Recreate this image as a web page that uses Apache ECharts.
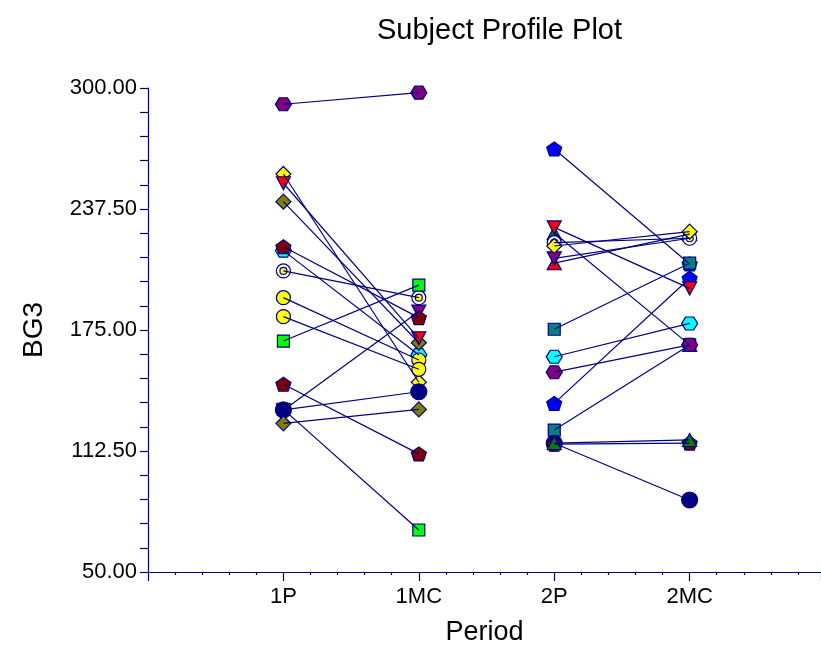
<!DOCTYPE html>
<html>
<head>
<meta charset="utf-8">
<script src="https://cdn.jsdelivr.net/npm/echarts@6/dist/echarts.min.js"></script>
<style>
  body { margin: 0; background: #fff; }
  #chart { width: 821px; height: 653px; }
</style>
</head>
<body>
<div id="chart"></div>
<script>
// period labels on the x axis (positions 1..4)
const periodNames = ['1P', '1MC', '2P', '2MC'];

// sequence 1 subjects: 1P -> 1MC
const seq1P  = [134.0, 133.5, 216.0, 191.7, 241.3, 291.6, 255.6, 250.8, 218.0, 205.5, 181.9, 169.3, 147.0, 133.7, 126.8];
const seq1MC = [71.7, 184.5, 162.1, 159.5, 168.4, 297.6, 148.0, 170.7, 181.4, 191.7, 154.7, 198.2, 111.0, 143.1, 134.0];
const seq1Marker = ['square', 'down', 'hexagon', 'circle', 'diamond', 'hexagon', 'diamond', 'down', 'pentagon', 'target', 'circle', 'square', 'pentagon', 'navy', 'diamond'];
const seq1Color  = ['#00ff00', '#800080', '#00ffff', '#ffff00', '#808000', '#800080', '#ffff00', '#ff0000', '#800000', '#ffffff', '#ffff00', '#00ff00', '#800000', '#000080', '#808000'];

// sequence 2 subjects: 2P -> 2MC
const seq2P  = [268.5, 123.3, 225.1, 116.5, 116.0, 116.6, 175.4, 153.2, 161.2, 137.1, 228.0, 209.5, 212.0, 220.1, 218.4];
const seq2MC = [209.1, 167.3, 167.3, 87.2, 116.6, 118.2, 209.5, 167.3, 178.4, 201.7, 196.5, 224.5, 222.4, 222.4, 225.8];
const seq2Marker = ['pentagon', 'square', 'up', 'navy', 'pentagon', 'up', 'square', 'hexagon', 'hexagon', 'pentagon', 'down', 'up', 'down', 'target', 'diamond'];
const seq2Color  = ['#0000ff', '#008080', '#008000', '#000080', '#800000', '#008000', '#008080', '#800080', '#00ffff', '#0000ff', '#ff0000', '#ff0000', '#800080', '#ffffff', '#ffff00'];

const navy = '#000080';
const font = 'Liberation Sans, Arial, sans-serif';

const symbols = {
  circle: 'circle',
  navy: 'circle',
  target: 'circle',
  square: 'rect',
  diamond: 'diamond',
  up: 'triangle',
  down: 'path://M-10,-8.66 L10,-8.66 L0,8.66 Z',
  pentagon: 'path://M0,-10 L9.51,-3.09 L5.88,8.09 L-5.88,8.09 L-9.51,-3.09 Z',
  hexagon: 'path://M-10,0 L-5,-8.66 L5,-8.66 L10,0 L5,8.66 L-5,8.66 Z'
};
const sizes = {
  circle: 14, navy: 16, target: 14, square: 12, diamond: 15,
  up: [14, 13], down: [14, 13], pentagon: [15, 14], hexagon: [16, 13]
};

const markerSeries = [];
const lineSeries = [];

function addGroup(x0, startVals, endVals, markers, colors) {
  startVals.forEach((v, i) => {
    const data = [[x0, v], [x0 + 1, endVals[i]]];
    const m = markers[i];
    markerSeries.push({
      type: 'scatter',
      data: data,
      symbol: symbols[m],
      symbolSize: sizes[m],
      z: 2,
      itemStyle: { color: colors[i], borderColor: navy, borderWidth: 1.2, opacity: 1 }
    });
    if (m === 'target') {
      markerSeries.push({
        type: 'scatter',
        data: data,
        symbol: 'circle',
        symbolSize: 7,
        z: 2,
        itemStyle: { color: '#ffff00', borderColor: navy, borderWidth: 1.2, opacity: 1 }
      });
    }
    lineSeries.push({
      type: 'line',
      data: data,
      showSymbol: false,
      z: 3,
      lineStyle: { color: navy, width: 1.2 }
    });
  });
}

addGroup(1, seq1P, seq1MC, seq1Marker, seq1Color);
addGroup(3, seq2P, seq2MC, seq2Marker, seq2Color);

const chart = echarts.init(document.getElementById('chart'));

chart.setOption({
  animation: false,
  backgroundColor: '#fff',
  textStyle: { fontFamily: font },
  title: {
    text: 'Subject Profile Plot',
    left: 372,
    top: 11,
    textStyle: { fontFamily: font, fontSize: 29, fontWeight: 'normal', color: '#000' }
  },
  grid: { left: 148, top: 88, right: 0, height: 484 },
  xAxis: {
    type: 'value',
    min: 0,
    max: 4.97,
    interval: 1,
    splitLine: { show: false },
    axisLine: { lineStyle: { color: navy, width: 1.2 } },
    axisTick: { show: true, length: 9, lineStyle: { color: navy, width: 1.2 } },
    minorTick: { show: true, splitNumber: 5, length: 3, lineStyle: { color: navy, width: 1.2 } },
    axisLabel: {
      formatter: (v) => periodNames[Math.round(v) - 1] || '',
      showMaxLabel: false,
      fontFamily: font,
      fontSize: 22,
      color: '#000',
      margin: 14
    },
    name: 'Period',
    nameLocation: 'middle',
    nameGap: 47,
    nameTextStyle: { fontFamily: font, fontSize: 27, color: '#000' }
  },
  yAxis: {
    type: 'value',
    min: 50,
    max: 300,
    interval: 62.5,
    splitLine: { show: false },
    axisLine: { show: true, lineStyle: { color: navy, width: 1.2 } },
    axisTick: { show: true, length: 8, lineStyle: { color: navy, width: 1.2 } },
    minorTick: { show: true, splitNumber: 5, length: 8, lineStyle: { color: navy, width: 1.2 } },
    axisLabel: {
      formatter: (v) => v.toFixed(2),
      fontFamily: font,
      fontSize: 22,
      color: '#000',
      margin: 11
    },
    name: 'BG3',
    nameLocation: 'middle',
    nameGap: 100,
    nameRotate: 90,
    nameTextStyle: { fontFamily: font, fontSize: 28, color: '#000' }
  },
  series: markerSeries.concat(lineSeries)
});

window.addEventListener('resize', () => {
  chart.resize();
});
</script>
</body>
</html>
